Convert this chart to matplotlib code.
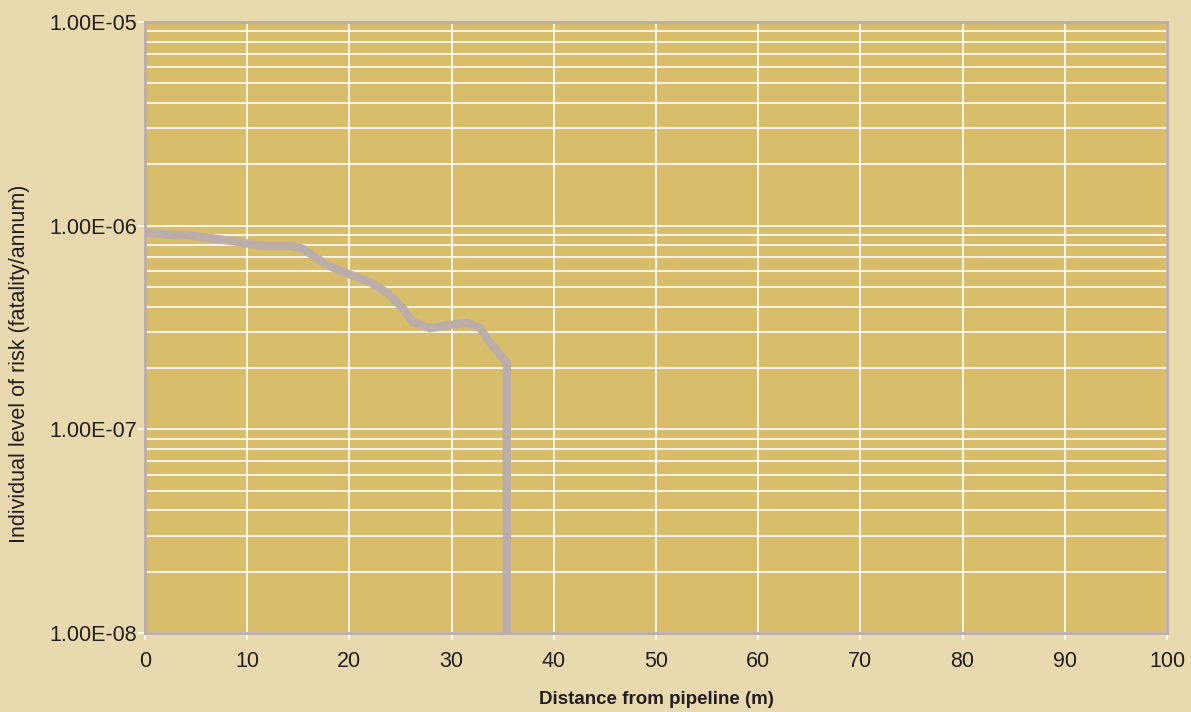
import matplotlib
matplotlib.use("Agg")
import matplotlib.pyplot as plt
from matplotlib.ticker import FixedLocator, LogLocator, FuncFormatter, NullFormatter

# ------------- DATA -------------
distance_m = [0, 2.7, 4.1, 9.0, 11.6, 14.5, 15.5, 17.8, 19.7, 22.0, 23.7,
              25.2, 26.2, 27.9, 29.8, 31.5, 32.8, 33.8, 35.4, 35.4]
risk = [0.93e-6, 0.90e-6, 0.90e-6, 0.834e-6, 0.794e-6, 0.794e-6, 0.768e-6,
        0.641e-6, 0.585e-6, 0.529e-6, 0.467e-6, 0.394e-6, 0.336e-6,
        0.314e-6, 0.325e-6, 0.333e-6, 0.314e-6, 0.265e-6, 0.212e-6, 1e-8]
x_ticks = list(range(0, 101, 10))
y_ticks = [1e-8, 1e-7, 1e-6, 1e-5]
# --------------------------------

FIG_BG = "#e9d9ae"
AX_BG = "#d8bd6b"
LINE_C = "#bbaea8"
TEXT_C = "#231f20"

plt.rcParams["font.family"] = ["Liberation Sans", "DejaVu Sans"]

fig = plt.figure(figsize=(11.91, 7.12), dpi=100, facecolor=FIG_BG)
ax = fig.add_axes([145 / 1191, 1 - 633 / 712, (1167 - 145) / 1191, (633 - 22) / 712])
ax.set_facecolor(AX_BG)

ax.plot(distance_m, risk, color=LINE_C, lw=6, solid_joinstyle="round",
        solid_capstyle="butt", zorder=3)

ax.set_yscale("log")
ax.set_xlim(0, 100)
ax.set_ylim(1e-8, 1e-5)

ax.xaxis.set_major_locator(FixedLocator(x_ticks))
ax.yaxis.set_major_locator(FixedLocator(y_ticks))
ax.yaxis.set_minor_locator(LogLocator(base=10, subs=range(2, 10)))
ax.yaxis.set_minor_formatter(NullFormatter())
ax.yaxis.set_major_formatter(FuncFormatter(lambda v, p: f"{v:.2E}"))

ax.grid(True, which="major", color="white", lw=1.2)
ax.grid(True, which="minor", axis="y", color="white", lw=1.2)
ax.set_axisbelow(True)

ax.tick_params(axis="both", which="major", colors="white", length=5, width=1.2,
               labelsize=15.5, labelcolor=TEXT_C)
ax.tick_params(axis="x", which="major", pad=8)
ax.tick_params(axis="y", which="major", pad=1)
ax.tick_params(axis="y", which="minor", length=0)

for s in ax.spines.values():
    s.set_color(LINE_C)
    s.set_linewidth(2)

ax.set_xlabel("Distance from pipeline (m)", fontsize=13.5, fontweight="bold",
              color=TEXT_C, labelpad=14)
ax.set_ylabel("Individual level of risk (fatality/annum)", fontsize=15.5,
              color=TEXT_C)
ax.yaxis.set_label_coords(-0.113, 0.44)

fig.savefig("out.png", dpi=100, facecolor=FIG_BG)
